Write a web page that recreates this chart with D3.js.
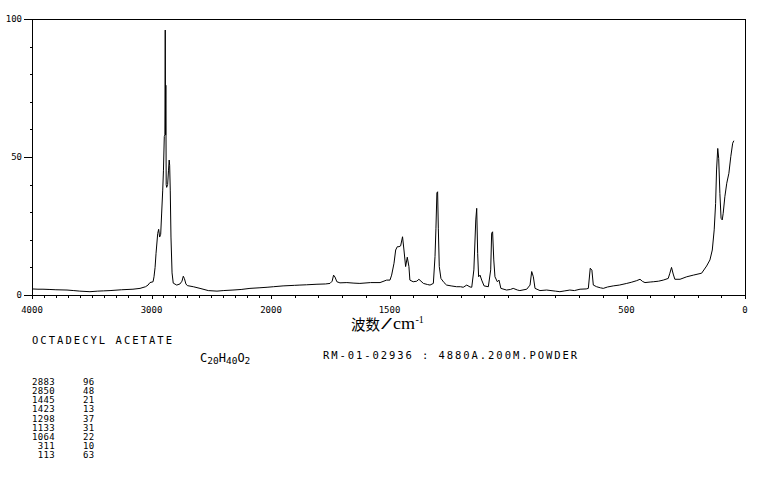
<!DOCTYPE html>
<html><head><meta charset="utf-8">
<script src="https://cdn.jsdelivr.net/npm/d3@7/dist/d3.min.js"></script>
<style>
html,body{margin:0;padding:0;background:#fff;}
svg{display:block;}
text{font-family:"DejaVu Sans Mono","Liberation Mono",monospace;fill:#000;}
</style></head>
<body><svg id="c" width="761" height="477"></svg>
<script>
// ---- data ----
const wavenumbers = [4000,3950,3908,3850,3800,3707,3650,3600,3515,3450,3400,3347,3250,3155,3096,3050,3029,3013,2987,2979,2970,2962,2948,2940,2932,2923,2915,2906,2900,2893,2888,2885,2882,2880,2877,2873,2865,2858,2852,2848,2843,2837,2828,2818,2789,2762,2745,2734,2725,2712,2700,2650,2594,2525,2452,2400,2318,2250,2176,2100,2033,1990,1949,1900,1878,1850,1806,1770,1751,1742,1736,1730,1722,1709,1680,1650,1625,1580,1540,1512,1498,1491,1481,1474,1467,1460,1453,1445,1439,1432,1425,1418,1414,1400,1385,1376,1357,1340,1329,1315,1308,1304,1300,1297,1294,1290,1283,1270,1259,1240,1217,1200,1189,1174,1160,1153,1144,1136,1132,1128,1124,1118,1111,1101,1083,1073,1069,1065,1060,1055,1045,1038,1030,1006,990,978,960,950,921,907,900,893,886,865,837,800,781,760,739,720,696,670,661,653,646,640,626,610,598,580,556,530,499,480,457,443,432,422,400,387,365,345,324,317,310,303,296,274,246,218,183,162,148,138,130,124,120,115,111,106,101,96,92,85,77,68,60,52,47];
const intensities = [2.2,2.1,2.1,2.0,1.9,1.8,1.6,1.4,1.2,1.4,1.5,1.6,1.9,2.1,2.4,3.0,3.6,4.5,4.8,6.6,10.0,15.1,22.3,23.8,21.0,22.0,29.7,38,45,57.4,58,96,58,76,40,39,40,45,48.9,47,38,21,8,4.3,3.6,4.0,5.0,6.8,6.0,4.0,3.4,3.0,2.4,1.6,1.4,1.6,1.8,2.0,2.4,2.6,2.8,3.0,3.3,3.5,3.6,3.7,3.9,4.0,4.2,5.0,7.2,6.5,4.8,4.4,4.5,4.3,4.2,4.5,4.5,5.4,5.4,7.2,11.5,16.3,17.5,17.5,17.8,21.1,16.3,10.3,13.7,10.3,5.4,4.8,5.0,5.7,4.2,3.8,3.6,4.2,13.9,24.2,37,37.4,24.2,10.3,6.0,4.5,3.6,3.3,3.0,3.0,2.8,3.6,2.9,2.8,9.1,27.2,31.4,15.1,6.6,7.2,5.4,3.3,3.0,9.1,22.4,22.9,12.7,6.6,4.8,5.4,2.4,1.8,2.0,2.4,1.8,1.6,2.1,3.6,8.5,6.6,2.4,1.6,1.8,1.4,1.2,1.5,1.8,1.6,2.1,2.2,2.4,9.7,9.0,3.6,3.0,2.6,2.4,2.9,3.3,3.6,4.2,4.6,5.2,5.7,4.9,4.5,4.7,4.8,5.0,5.4,6.0,7.9,10.0,7.6,5.7,5.7,6.6,7.2,7.9,10.5,12.7,16.3,23.6,33.2,45.3,53.1,49.5,36.8,27.8,27.2,29.6,35.6,40.5,44.1,50.1,55.0,55.9];
const xTickLabels = [4000,3000,2000,1500,500,0];
const yTickLabels = [0,50,100];
const peakWavenumbers = ["2883","2850","1445","1423","1298","1133","1064","311","113"];
const peakIntensities = ["96","48","21","13","37","31","22","10","63"];
const compoundName = "OCTADECYL ACETATE";
const sampleInfo = "RM-01-02936 : 4880A.200M.POWDER";

// ---- drawing ----
const svg = d3.select("#c");
const L = 32, R = 745, T = 19, B = 295;
const x = d3.scaleLinear().domain([4000, 2000, 0]).range([L, 271, R]);
const y = d3.scaleLinear().domain([0, 100]).range([B, T]);

const g = svg.append("g");
g.append("path")
  .attr("d", `M${L},${B}V${T}H${R}V${B}H${L}`)
  .attr("fill", "none").attr("stroke", "#000").attr("stroke-width", 1)
  .attr("shape-rendering", "crispEdges");

// x ticks
const xt = d3.range(0, 4001, 100);
g.selectAll("line.xt").data(xt).join("line")
  .attr("x1", d => Math.round(x(d)) + 0.5).attr("x2", d => Math.round(x(d)) + 0.5)
  .attr("y1", B).attr("y2", d => B + (xTickLabels.includes(d) ? 4 : 3))
  .attr("stroke", "#000").attr("shape-rendering", "crispEdges");
g.selectAll("text.xl").data(xTickLabels).join("text")
  .attr("x", d => x(d)).attr("y", 312.5)
  .attr("text-anchor", "middle").style("font-size", "9px")
  .text(d => d);

// y ticks
const yt = d3.range(0, 101, 10);
g.selectAll("line.yt").data(yt).join("line")
  .attr("y1", d => Math.round(y(d)) + 0.5).attr("y2", d => Math.round(y(d)) + 0.5)
  .attr("x1", d => L - (yTickLabels.includes(d) ? 8 : 2.5)).attr("x2", L)
  .attr("stroke", "#000").attr("shape-rendering", "crispEdges");
g.selectAll("text.yl").data(yTickLabels).join("text")
  .attr("x", 22).attr("y", d => y(d) + 3)
  .attr("text-anchor", "end").style("font-size", "9px")
  .text(d => d);

// spectrum
const pts = wavenumbers.map((w, i) => [w, intensities[i]]);
g.append("path").datum(pts)
  .attr("fill", "none").attr("stroke", "#000").attr("stroke-width", 1)
  .attr("d", d3.line().x(d => x(d[0])).y(d => y(d[1])));

// axis title
g.append("text").attr("x", 351).attr("y", 330)
  .style("font-family", "'Noto Sans CJK SC'").style("font-size", "14.5px")
  .text("波数");
g.append("text").attr("x", 381).attr("y", 329)
  .style("font-family", "'Liberation Serif'").style("font-size", "16px")
  .attr("textLength", 11).attr("lengthAdjust", "spacingAndGlyphs")
  .text("/");
g.append("text").attr("x", 393).attr("y", 329)
  .style("font-family", "'Liberation Serif'").style("font-size", "16px")
  .attr("textLength", 22).attr("lengthAdjust", "spacingAndGlyphs")
  .text("cm");
g.append("text").attr("x", 415.5).attr("y", 323)
  .style("font-family", "'Liberation Serif'").style("font-size", "10px")
  .text("-1");

// captions
g.append("text").attr("x", 32).attr("y", 344)
  .style("font-size", "10.5px").attr("textLength", 140).attr("lengthAdjust", "spacing")
  .text(compoundName);
const f = g.append("text").attr("x", 200).attr("y", 362).style("font-size", "12px");
f.append("tspan").text("C");
f.append("tspan").attr("dy", 2).style("font-size", "9.5px").text("20");
f.append("tspan").attr("dy", -2).text("H");
f.append("tspan").attr("dy", 2).style("font-size", "9.5px").text("40");
f.append("tspan").attr("dy", -2).text("O");
f.append("tspan").attr("dy", 2).style("font-size", "9.5px").text("2");
g.append("text").attr("x", 323).attr("y", 358.5)
  .style("font-size", "10.5px").attr("textLength", 254).attr("lengthAdjust", "spacing")
  .text(sampleInfo);

// peak table
const step = 9.125;
g.selectAll("text.pw").data(peakWavenumbers).join("text")
  .attr("x", 55).attr("y", (d, i) => 385 + i * step)
  .attr("text-anchor", "end").style("font-size", "9px")
  .attr("letter-spacing", "0.35px").text(d => d);
g.selectAll("text.pi").data(peakIntensities).join("text")
  .attr("x", 83).attr("y", (d, i) => 385 + i * step)
  .style("font-size", "9px").attr("letter-spacing", "0.35px").text(d => d);
</script></body></html>
